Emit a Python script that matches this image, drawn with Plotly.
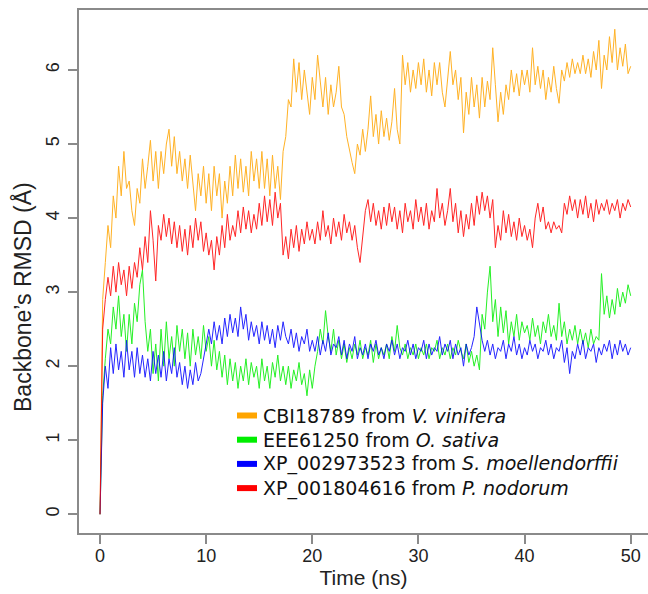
import plotly.graph_objects as go

# time axis (ns): frames every 0.25 ns
time_ns = [i * 0.25 for i in range(201)]

series_codes = ["CBI18789", "EEE61250", "XP_002973523", "XP_001804616"]
series_species = ["V. vinifera", "O. sativa", "S. moellendorffii", "P. nodorum"]
series_colors = ["#FFA500", "#00EE00", "#0000FF", "#FF0000"]

rmsd_cbi18789 = [0.0,
    2.9, 3.4, 3.9, 3.6, 4.3, 4.0, 4.7, 4.3, 4.9, 4.4,
    4.5, 4.1, 3.9, 4.4, 4.2, 4.8, 4.4, 4.7, 5.05, 4.5,
    4.9, 4.4, 4.9, 4.6, 5.0, 5.2, 4.7, 5.1, 4.6, 4.9,
    4.5, 4.8, 4.4, 4.85, 4.5, 4.1, 4.6, 4.3, 4.7, 4.2,
    4.6, 4.1, 4.7, 4.3, 4.6, 4.0, 4.5, 4.2, 4.7, 4.3,
    4.85, 4.4, 4.8, 4.35, 4.7, 4.3, 4.9, 4.5, 4.8, 4.4,
    4.9, 4.4, 4.8, 4.3, 4.85, 4.4, 4.7, 4.25, 4.9, 5.1,
    5.6, 5.5, 6.15, 5.7, 6.1, 5.6, 6.0, 5.7, 5.4, 5.9,
    5.6, 6.2, 5.8, 5.5, 5.9, 5.4, 5.8, 5.5, 5.7, 6.05,
    5.5, 5.4, 5.1, 4.9, 4.75, 4.6, 5.0, 4.85, 5.2, 4.9,
    5.2, 5.65, 5.1, 5.4, 5.0, 5.45, 5.1, 5.35, 5.05, 5.3,
    5.75, 5.2, 5.0, 6.2, 5.8, 6.1, 5.7, 6.0, 5.75, 6.1,
    5.8, 6.15, 5.7, 6.0, 5.65, 6.1, 5.8, 6.1, 5.7, 5.5,
    5.9, 6.25, 5.8, 6.0, 5.6, 5.9, 5.15, 5.7, 5.4, 5.9,
    5.5, 5.8, 5.35, 5.9, 5.5, 5.85, 5.6, 6.3, 5.8, 5.3,
    5.7, 5.4, 5.8, 5.6, 6.0, 5.7, 5.95, 5.65, 6.0, 5.8,
    6.0, 5.7, 6.3, 5.8, 6.05, 5.75, 6.0, 5.6, 5.9, 5.7,
    6.05, 5.75, 5.55, 6.0, 5.85, 6.1, 5.9, 6.15, 5.95, 6.1,
    5.95, 6.2, 5.95, 6.15, 5.9, 6.25, 6.0, 6.4, 5.75, 6.2,
    6.0, 6.45, 6.1, 6.55, 6.0, 6.3, 6.05, 6.35, 5.95, 6.05]

rmsd_eee61250 = [0.0,
    1.6, 2.1, 2.5, 2.3, 2.8, 2.5, 2.95, 2.4, 2.7, 2.2,
    2.7, 2.3, 2.85, 2.6, 3.1, 3.3, 2.6, 2.2, 2.5, 1.9,
    2.3, 1.8, 2.5, 2.0, 2.6, 2.1, 2.4, 2.0, 2.55, 2.2,
    2.5, 2.1, 2.45, 2.0, 2.5, 2.15, 2.4, 2.1, 2.55, 2.2,
    2.4, 2.0, 2.35, 1.95, 2.2, 1.85, 2.15, 1.75, 2.1, 1.8,
    2.05, 1.7, 2.0, 1.8, 2.1, 1.75, 2.05, 1.85, 2.0, 1.7,
    2.1, 1.8, 2.0, 1.7, 2.05, 1.85, 2.15, 1.8, 2.0, 1.75,
    2.0, 1.7, 1.95, 1.8, 2.05, 1.75, 1.9, 1.6, 1.95, 1.7,
    2.0, 2.2, 2.5, 2.3, 2.75, 2.4, 2.2, 2.5, 2.15, 2.35,
    2.1, 2.3, 2.05, 2.25, 2.1, 2.3, 2.15, 2.35, 2.1, 2.25,
    2.15, 2.35, 2.05, 2.3, 2.1, 2.25, 2.15, 2.3, 2.1, 2.4,
    2.2, 2.55, 2.25, 2.15, 2.3, 2.1, 2.25, 2.15, 2.3, 2.1,
    2.25, 2.15, 2.3, 2.1, 2.25, 2.2, 2.35, 2.1, 2.25, 2.15,
    2.3, 2.1, 2.25, 2.15, 2.35, 2.2, 2.1, 2.3, 2.05, 2.2,
    2.0, 2.15, 1.95, 2.7, 2.5, 3.0, 3.35, 2.6, 2.9, 2.4,
    2.8, 2.45, 2.75, 2.3, 2.6, 2.4, 2.7, 2.35, 2.6, 2.45,
    2.55, 2.35, 2.65, 2.4, 2.55, 2.3, 2.6, 2.45, 2.7, 2.4,
    2.55, 2.35, 2.85, 2.4, 2.6, 2.3, 2.5, 2.35, 2.55, 2.3,
    2.5, 2.3, 2.45, 2.25, 2.5, 2.3, 2.4, 2.35, 3.25, 2.7,
    2.95, 2.65, 2.9, 2.7, 3.05, 2.8, 3.0, 2.85, 3.1, 2.95]

rmsd_xp002973523 = [0.0,
    1.5, 2.0, 1.7, 2.25, 1.9, 2.3, 1.95, 2.2, 1.85, 2.35,
    1.95, 2.2, 1.85, 2.25, 1.9, 2.15, 1.85, 2.1, 1.8, 2.2,
    1.9, 2.15, 1.85, 2.2, 1.8, 2.1, 1.9, 2.25, 1.85, 2.05,
    1.75, 2.0, 1.7, 1.95, 1.75, 2.05, 1.8, 1.9, 2.1, 2.3,
    2.5, 2.3, 2.6, 2.35, 2.55, 2.3, 2.65, 2.4, 2.7, 2.45,
    2.65, 2.4, 2.8, 2.5, 2.7, 2.35, 2.6, 2.4, 2.55, 2.3,
    2.6, 2.35, 2.55, 2.3, 2.5, 2.25, 2.55, 2.35, 2.6, 2.4,
    2.3, 2.5, 2.25, 2.45, 2.2, 2.4, 2.3, 2.5, 2.2, 2.35,
    2.2, 2.4, 2.15, 2.35, 2.2, 2.45, 2.15, 2.3, 2.25, 2.4,
    2.15, 2.35, 2.1, 2.3, 2.2, 2.4, 2.1, 2.25, 2.15, 2.3,
    2.1, 2.3, 2.2, 2.35, 2.15, 2.25, 2.1, 2.3, 2.2, 2.35,
    2.15, 2.3, 2.1, 2.25, 2.2, 2.35, 2.15, 2.3, 2.1, 2.25,
    2.2, 2.35, 2.1, 2.3, 2.15, 2.25, 2.2, 2.4, 2.15, 2.3,
    2.2, 2.35, 2.1, 2.3, 2.15, 2.25, 2.0, 2.3, 2.15, 2.25,
    2.4, 2.8, 2.55, 2.35, 2.2, 2.35, 2.15, 2.3, 2.1, 2.25,
    2.2, 2.35, 2.1, 2.3, 2.2, 2.4, 2.15, 2.3, 2.1, 2.25,
    2.15, 2.35, 2.2, 2.3, 2.1, 2.25, 2.2, 2.35, 2.15, 2.3,
    2.1, 2.25, 2.2, 2.35, 2.05, 2.25, 1.9, 2.2, 2.1, 2.3,
    2.15, 2.35, 2.1, 2.25, 2.2, 2.3, 2.05, 2.25, 2.15, 2.3,
    2.2, 2.35, 2.1, 2.3, 2.15, 2.35, 2.2, 2.3, 2.15, 2.25]

rmsd_xp001804616 = [0.0,
    2.5, 2.9, 3.2, 2.95, 3.35, 3.0, 3.4, 3.1, 3.3, 2.95,
    3.35, 3.05, 3.4, 3.2, 3.6, 3.3, 3.75, 3.4, 4.1, 3.7,
    3.15, 3.9, 3.7, 4.05, 3.75, 4.0, 3.65, 3.95, 3.6, 3.9,
    3.55, 3.85, 3.5, 3.9, 3.6, 4.0, 3.7, 3.95, 3.55, 3.8,
    3.5, 3.7, 3.3, 3.75, 3.5, 3.9, 3.6, 4.05, 3.7, 3.9,
    3.75, 4.1, 3.8, 4.15, 3.85, 4.1, 3.8, 4.05, 3.85, 4.2,
    3.9, 4.3, 3.95, 4.25, 3.9, 4.35, 4.0, 4.2, 3.5, 3.75,
    3.45, 3.85, 3.6, 3.9, 3.55, 3.85, 3.65, 3.95, 3.7, 3.85,
    3.65, 3.95, 3.7, 4.1, 3.75, 3.9, 3.65, 4.0, 3.75, 3.95,
    3.7, 4.05, 3.8, 3.95, 3.7, 3.9, 3.6, 3.4, 3.75, 4.1,
    4.25, 3.95, 4.2, 3.9, 4.1, 3.85, 4.15, 3.9, 4.2, 3.95,
    4.15, 3.85, 4.1, 3.8, 4.2, 3.95, 4.1, 3.85, 4.25, 3.95,
    4.15, 3.9, 4.2, 3.85, 4.1, 3.95, 4.4, 4.0, 4.2, 3.9,
    4.1, 4.4, 3.95, 4.2, 3.8, 4.1, 3.75, 4.05, 3.85, 4.2,
    3.9, 4.3, 4.05, 4.35, 4.1, 4.3, 4.0, 4.25, 3.6, 3.9,
    3.7, 4.1, 3.8, 4.05, 3.75, 3.95, 3.7, 4.0, 3.75, 3.9,
    3.7, 3.85, 3.6, 4.0, 4.2, 3.95, 4.15, 3.85, 3.95, 3.8,
    3.95, 3.85, 3.9, 3.8, 4.2, 4.05, 4.3, 4.1, 4.25, 4.0,
    4.25, 4.05, 4.3, 4.0, 4.2, 3.95, 4.25, 4.05, 4.2, 4.1,
    4.25, 4.05, 4.2, 4.1, 4.25, 4.0, 4.2, 4.1, 4.25, 4.15]

series_values = [rmsd_cbi18789, rmsd_eee61250, rmsd_xp002973523, rmsd_xp001804616]

x_ticks = [0, 10, 20, 30, 40, 50]
y_ticks = [0, 1, 2, 3, 4, 5, 6]

W, H = 648, 594
ML, MR, MT, MB = 79, 0, 10, 61
PW, PH = W - ML - MR, H - MT - MB


def px_to_paper_x(px):
    return (px - ML) / PW


def py_to_paper_y(py):
    return (H - MB - py) / PH


fig = go.Figure()

for code, sp, color, vals in zip(series_codes, series_species, series_colors, series_values):
    fig.add_trace(go.Scatter(
        x=time_ns, y=vals, mode="lines", name=f"{code} from {sp}", showlegend=False,
        line=dict(color=color, width=1), opacity=0.85, hoverinfo="skip"))

# legend (key lines + text, placed like the original R legend)
legend_rows_py = [415.5, 439.7, 463.9, 488.1]
shapes = []
annotations = []
for code, sp, color, ry in zip(series_codes, series_species, series_colors, legend_rows_py):
    yp = py_to_paper_y(ry)
    shapes.append(dict(type="line", xref="paper", yref="paper",
                       x0=px_to_paper_x(237), x1=px_to_paper_x(257), y0=yp, y1=yp,
                       line=dict(color=color, width=6)))
    annotations.append(dict(xref="paper", yref="paper", x=px_to_paper_x(261), y=yp,
                            xanchor="left", yanchor="middle", showarrow=False,
                            text=f"{code} from <i>{sp}</i>",
                            font=dict(family="DejaVu Sans, sans-serif", size=19, color="#111111")))

# y-axis title
annotations.append(dict(xref="paper", yref="paper", x=px_to_paper_x(22), y=py_to_paper_y(297),
                        xanchor="center", yanchor="middle", showarrow=False, textangle=-90,
                        text="Backbone\u2019s RMSD (\u00c5)",
                        font=dict(family="Liberation Sans, Arial, sans-serif", size=23,
                                  color="#222222")))

axis_col = "#8a8a8a"
fig.update_layout(
    width=W, height=H,
    margin=dict(l=ML, r=MR, t=MT, b=MB),
    paper_bgcolor="white", plot_bgcolor="white",
    font=dict(family="Liberation Sans, Arial, sans-serif", size=18, color="#222222"),
    showlegend=False,
    shapes=shapes, annotations=annotations,
    xaxis=dict(
        range=[-1.98, 51.63], tickmode="array", tickvals=x_ticks,
        ticktext=[str(v) for v in x_ticks], automargin=False,
        showline=True, linecolor=axis_col, linewidth=1.5, mirror=True,
        ticks="outside", ticklen=9, tickwidth=1.5, tickcolor=axis_col,
        showgrid=False, zeroline=False, ticklabelstandoff=-3,
        title=dict(text="Time (ns)", font=dict(size=21), standoff=1),
    ),
    yaxis=dict(
        range=[-0.253, 6.81], tickmode="array", tickvals=y_ticks,
        ticktext=[str(v) for v in y_ticks], automargin=False,
        showline=True, linecolor=axis_col, linewidth=1.5, mirror=False,
        ticks="outside", ticklen=9, tickwidth=1.5, tickcolor=axis_col,
        showgrid=False, zeroline=False, tickangle=-90, ticklabelstandoff=2,
    ),
)

fig.write_html(
    "out.html",
    config={"displayModeBar": False},
    post_script="document.body.style.margin='0px';document.body.style.overflow='hidden';",
)
